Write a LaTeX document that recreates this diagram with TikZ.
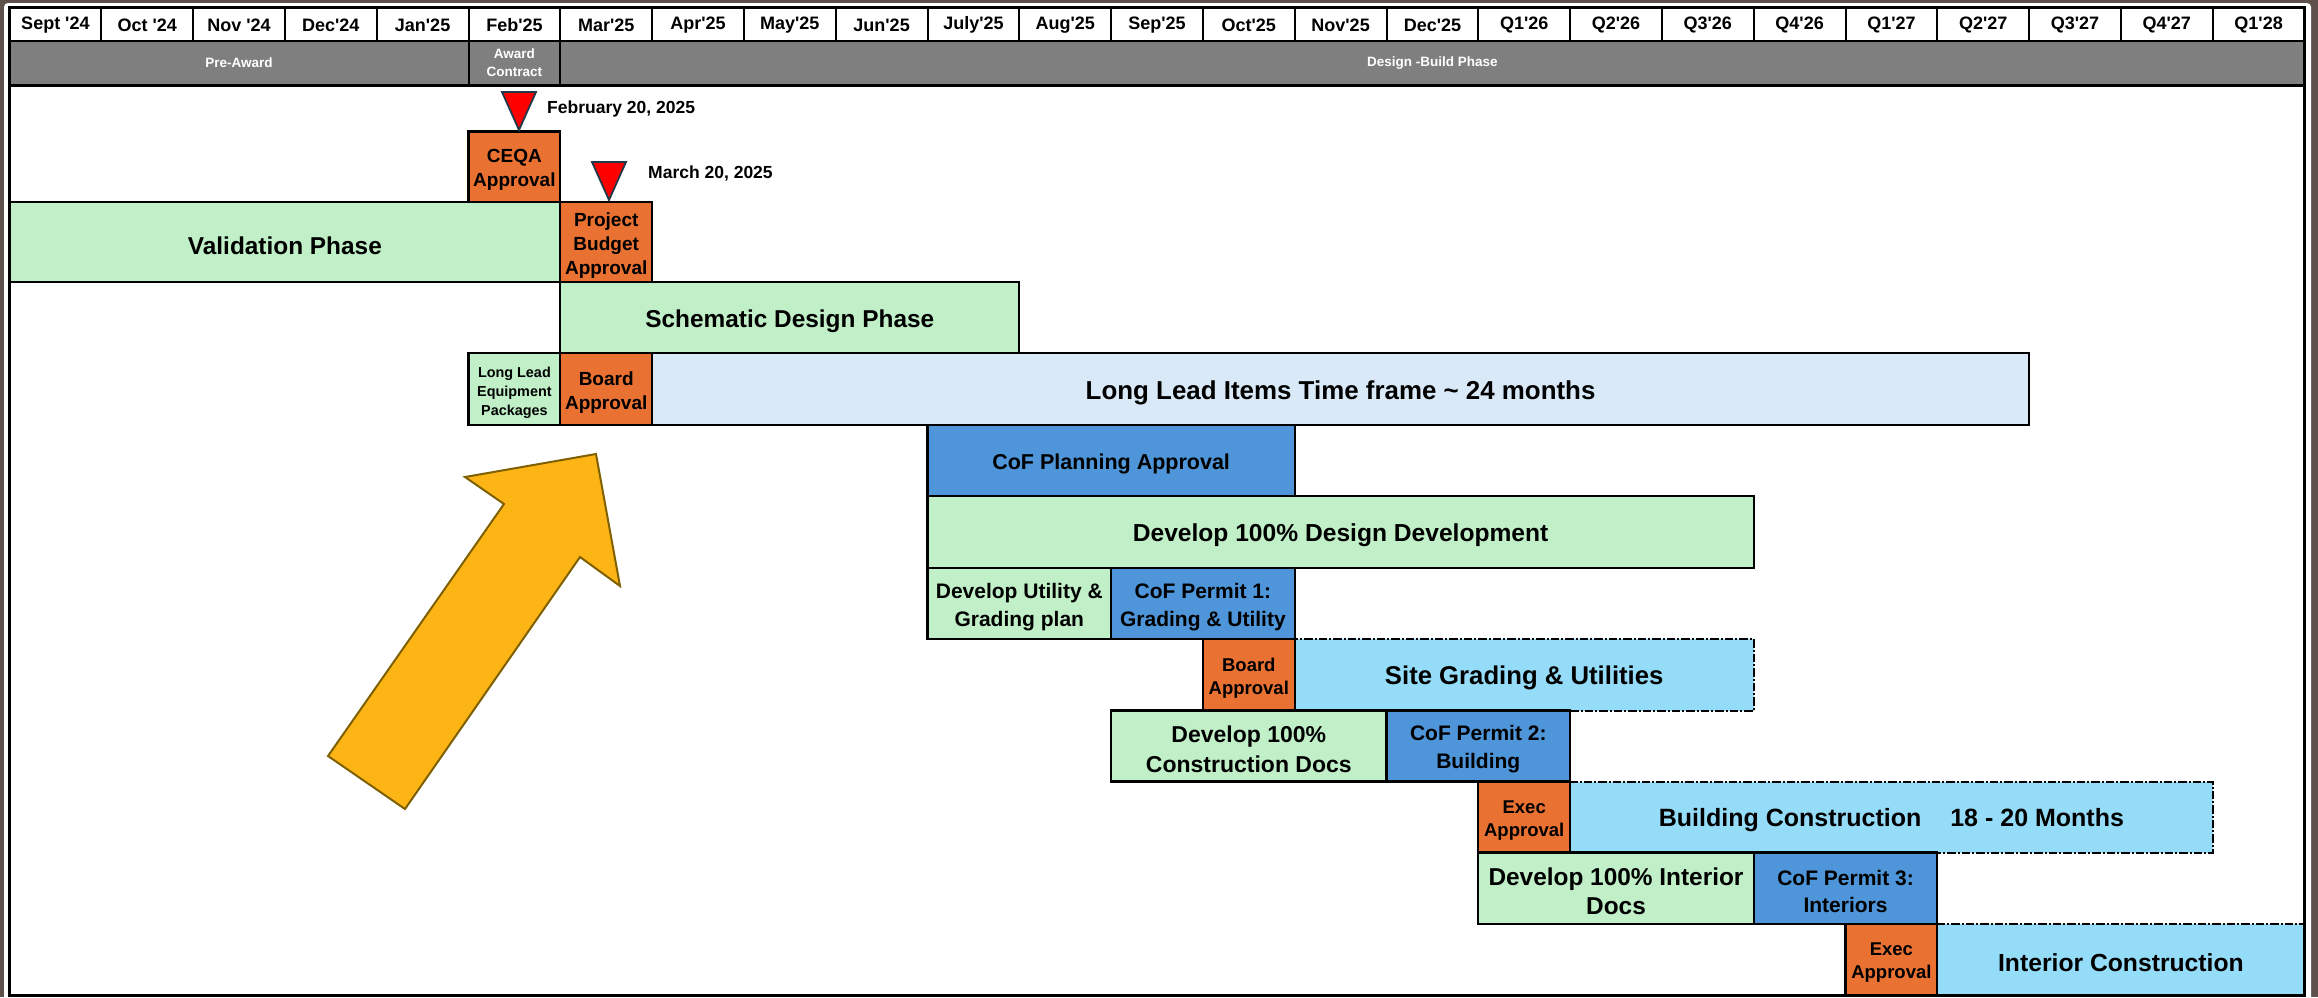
\documentclass[tikz,border=0pt]{standalone}
\usepackage{fontspec}
\setmainfont{Liberation Sans}[Ligatures=TeXOff]
\definecolor{cOr}{HTML}{E97132}
\definecolor{cGr}{HTML}{C1F0C8}
\definecolor{cBl}{HTML}{4E95D9}
\definecolor{cLb}{HTML}{DAE9F8}
\definecolor{cCy}{HTML}{95DCF8}
\definecolor{cGy}{HTML}{7F7F7F}
\definecolor{cFr}{HTML}{5E514C}
\definecolor{cAr}{HTML}{FDB515}
\definecolor{cArE}{HTML}{7F6000}
\definecolor{cTriE}{HTML}{203A4C}
\newcommand\fsz[2]{\fontsize{#1}{#2}\selectfont}
\newcommand\gbar[8]{%
  \node[#1, minimum width={#5-#3}, minimum height={#6-#4}] (#2) at (#3,#4) {};
  \node[bartext, font=\bfseries\fsz#7] (#2-t) at ([yshift=-3.5pt]#2.center) {#8};}
\tikzset{
  bar/.style={draw=black, line width=2.3pt, inner sep=0pt, outer sep=0pt, anchor=north west},
  bartext/.style={align=center, text=black, inner sep=0pt},
  grn/.style={bar, fill=cGr},
  org/.style={bar, fill=cOr},
  blu/.style={bar, fill=cBl},
  lbl/.style={bar, fill=cLb},
  cyn/.style={bar, fill=cCy, line width=2pt, dash pattern=on 8.5pt off 2pt on 2pt off 2pt},
  hdr/.style={font=\bfseries\fsz{18}{20}, text=black, inner sep=0pt},
  band/.style={font=\bfseries\fsz{13.5}{18}, text=white, align=center, inner sep=0pt},
  mile/.style={fill=red, draw=cTriE, line width=1.8pt, line join=miter},
  milelbl/.style={font=\bfseries\fsz{17.5}{20}, text=black, anchor=west, inner sep=0pt},
  grid/.style={draw=black, line width=2pt}
}
\begin{document}
\begin{tikzpicture}[x=1pt, y=-1pt]
\useasboundingbox (0,0) rectangle (2318,997);
% outer frame and paper
\fill[cFr] (0,0) rectangle (2318,997);
\fill[white, rounded corners=4pt] (4,3) rectangle (2311,1010);
% header gray band
\fill[cGy] (9.5,40.5) rectangle (2304.5,85.5);
% dashed cyan bars first
\gbar{cyn}{sgu}{1294.7}{639}{1753.7}{710.5}{{25.7}{30}}{Site Grading \& Utilities}
\gbar{cyn}{bc}{1570.1}{781.5}{2212.7}{852.5}{{25}{30}}{Building Construction\hspace{29pt}18 - 20 Months}
\gbar{cyn}{ic}{1937.3}{924}{2304.5}{995}{{24.7}{30}}{Interior Construction}
% solid bars
\gbar{org}{ceqa}{468.5}{131.5}{560.3}{202}{{19}{24}}{CEQA\\Approval}
\gbar{grn}{valid}{9.5}{202}{560.3}{282}{{24.4}{28}}{Validation Phase}
\gbar{org}{pba}{560.3}{202}{652.1}{282}{{19}{24}}{Project\\Budget\\Approval}
\gbar{grn}{sdp}{560.3}{282}{1019.3}{353}{{24.4}{28}}{Schematic Design Phase}
\gbar{grn}{llep}{468.5}{353}{560.3}{425}{{14.4}{19}}{Long Lead\\Equipment\\Packages}
\gbar{org}{baone}{560.3}{353}{652.1}{425}{{19}{24}}{Board\\Approval}
\gbar{lbl}{lli}{652.1}{353}{2029.1}{425}{{25.9}{30}}{Long Lead Items Time frame \textasciitilde\ 24 months}
\gbar{blu}{cofpa}{927.5}{425}{1294.7}{496}{{21.5}{26}}{CoF Planning Approval}
\gbar{grn}{dd}{927.5}{496}{1753.7}{568}{{24.6}{28}}{Develop 100\% Design Development}
\gbar{grn}{dug}{927.5}{568}{1111.1}{639}{{21}{28}}{Develop Utility \&\\Grading plan}
\gbar{blu}{cpone}{1111.1}{568}{1294.7}{639}{{21}{28}}{CoF Permit 1:\\Grading \& Utility}
\gbar{org}{batwo}{1202.9}{639}{1294.7}{710.5}{{18.5}{23}}{Board\\Approval}
\gbar{grn}{cd}{1111.1}{710.5}{1386.5}{781.5}{{23}{30}}{Develop 100\%\\Construction Docs}
\gbar{blu}{cptwo}{1386.5}{710.5}{1570.1}{781.5}{{21}{28}}{CoF Permit 2:\\Building}
\gbar{org}{eaone}{1478.3}{781.5}{1570.1}{852.5}{{18.5}{23}}{Exec\\Approval}
\gbar{grn}{idocs}{1478.3}{852.5}{1753.7}{924}{{24.4}{29}}{Develop 100\% Interior\\Docs}
\gbar{blu}{cpthree}{1753.7}{852.5}{1937.3}{924}{{21}{27}}{CoF Permit 3:\\Interiors}
\gbar{org}{eatwo}{1845.5}{924}{1937.3}{995}{{18.5}{23}}{Exec\\Approval}
% milestones
\draw[mile] (502,92) -- (536,92) -- (519,130) -- cycle;
\node[milelbl] (feb) at (547,109) {February 20, 2025};
\draw[mile] (592,162) -- (626,162) -- (609,200) -- cycle;
\node[milelbl] (mar) at (648,174) {March 20, 2025};
% big arrow
\filldraw[fill=cAr, draw=cArE, line width=2pt, line join=miter]
  (328,756) -- (504,504) -- (465,477) -- (596,454) -- (620,586) -- (580,557) -- (405,809) -- cycle;
% header row
\foreach \m [count=\i from 0] in {Sept '24,Oct '24,Nov '24,Dec'24,Jan'25,Feb'25,Mar'25,Apr'25,May'25,Jun'25,July'25,Aug'25,Sep'25,Oct'25,Nov'25,Dec'25,Q1'26,Q2'26,Q3'26,Q4'26,Q1'27,Q2'27,Q3'27,Q4'27,Q1'28}{
  \node[hdr] (h\i) at ({9.5+91.8*\i+45.9},25) {\m};
}
\foreach \i in {1,...,24}{
  \draw[grid] ({9.5+91.8*\i},7.5) -- ({9.5+91.8*\i},40.5);
}
\draw[grid] (9.5,40.5) -- (2304.5,40.5);
\draw[grid] (468.5,40.5) -- (468.5,85.5);
\draw[grid] (560.3,40.5) -- (560.3,85.5);
\draw[draw=black, line width=3.5pt] (9.5,85.5) -- (2304.5,85.5);
\node[band] (pre) at (239,63) {Pre-Award};
\node[band] (award) at (514.4,63) {Award\\Contract};
\node[band] (dbp) at (1432.4,63) {Design -Build Phase};
% table frame
\draw[draw=black, line width=2.3pt] (9.5,995.5) -- (9.5,7.5) -- (2304.5,7.5) -- (2304.5,995.5);
\draw[draw=black, line width=3pt] (8.4,995.5) -- (2305.6,995.5);
\end{tikzpicture}
\end{document}
